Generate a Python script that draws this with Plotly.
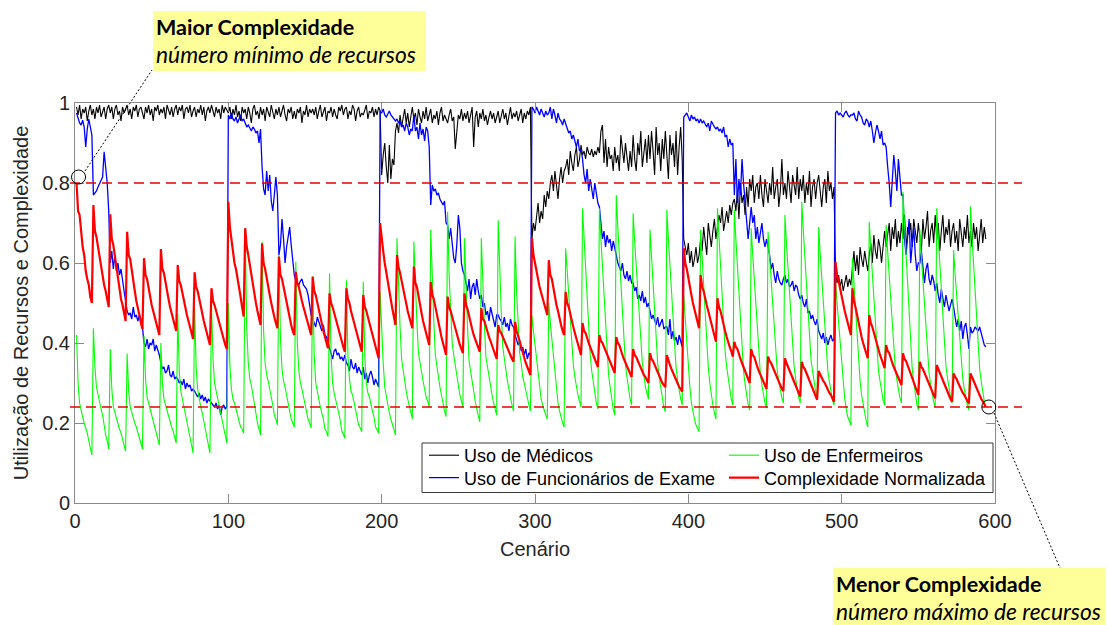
import plotly.graph_objects as go

# Cenários 1..594 (6 blocos de 99, subciclos de 11)
cenario = list(range(1, 595))

uso_medicos = [
    # bloco 1
    0.99, 0.97, 0.995, 0.96, 0.985, 0.975, 0.99, 0.955, 0.98, 0.995, 0.97,
    0.985, 0.96, 0.99, 0.975, 0.995, 0.965, 0.98, 0.99, 0.96, 0.985, 0.995,
    0.975, 0.99, 0.96, 0.985, 0.995, 0.97, 0.98, 0.955, 0.99, 0.975, 0.985,
    0.995, 0.97, 0.985, 0.96, 0.99, 0.98, 0.995, 0.965, 0.985, 0.99, 0.975,
    0.96, 0.99, 0.975, 0.995, 0.97, 0.985, 0.955, 0.99, 0.98, 0.995, 0.97,
    0.985, 0.975, 0.99, 0.96, 0.995, 0.98, 0.97, 0.99, 0.965, 0.985, 0.995,
    0.97, 0.99, 0.98, 0.995, 0.96, 0.985, 0.99, 0.975, 0.995, 0.965, 0.98,
    0.99, 0.965, 0.985, 0.975, 0.995, 0.97, 0.99, 0.955, 0.98, 0.99, 0.975,
    0.995, 0.98, 0.965, 0.99, 0.975, 0.985, 0.96, 0.995, 0.975, 0.99, 0.98,
    # bloco 2
    0.975, 0.99, 0.96, 0.985, 0.97, 0.995, 0.965, 0.98, 0.955, 0.99, 0.975,
    0.985, 0.96, 0.99, 0.975, 0.95, 0.985, 0.995, 0.97, 0.98, 0.96, 0.99,
    0.97, 0.985, 0.955, 0.99, 0.975, 0.965, 0.995, 0.98, 0.96, 0.985, 0.97,
    0.99, 0.965, 0.98, 0.995, 0.97, 0.955, 0.985, 0.975, 0.99, 0.96, 0.98,
    0.96, 0.985, 0.975, 0.99, 0.95, 0.98, 0.97, 0.995, 0.965, 0.985, 0.975,
    0.985, 0.97, 0.99, 0.96, 0.98, 0.995, 0.965, 0.975, 0.99, 0.955, 0.98,
    0.975, 0.99, 0.965, 0.985, 0.97, 0.96, 0.99, 0.98, 0.995, 0.97, 0.985,
    0.99, 0.96, 0.98, 0.97, 0.995, 0.985, 0.955, 0.98, 0.99, 0.965, 0.975,
    0.97, 0.985, 0.995, 0.96, 0.98, 0.975, 0.99, 0.965, 0.985, 0.97, 0.99,
    # bloco 3
    0.98, 0.82, 0.87, 0.90, 0.84, 0.80, 0.895, 0.81, 0.86, 0.845, 0.93,
    0.95, 0.925, 0.97, 0.94, 0.96, 0.985, 0.95, 0.975, 0.94, 0.965, 0.99,
    0.96, 0.975, 0.945, 0.985, 0.965, 0.95, 0.98, 0.96, 0.99, 0.955, 0.97,
    0.985, 0.95, 0.97, 0.96, 0.98, 0.945, 0.975, 0.99, 0.955, 0.97, 0.96,
    0.95, 0.97, 0.985, 0.955, 0.965, 0.885, 0.94, 0.97, 0.96, 0.985, 0.955,
    0.975, 0.96, 0.98, 0.95, 0.97, 0.99, 0.89, 0.965, 0.98, 0.94, 0.975,
    0.96, 0.985, 0.955, 0.97, 0.945, 0.965, 0.98, 0.96, 0.975, 0.95, 0.97,
    0.98, 0.95, 0.97, 0.985, 0.96, 0.975, 0.945, 0.97, 0.99, 0.96, 0.975,
    0.965, 0.98, 0.955, 0.97, 0.985, 0.95, 0.975, 0.96, 0.98, 0.97, 0.99,
    # bloco 4
    0.66, 0.70, 0.68, 0.72, 0.75, 0.70, 0.73, 0.71, 0.77, 0.74, 0.78,
    0.76, 0.80, 0.82, 0.78, 0.83, 0.79, 0.76, 0.81, 0.84, 0.80, 0.83,
    0.84, 0.86, 0.82, 0.88, 0.85, 0.83, 0.87, 0.89, 0.84, 0.86, 0.895,
    0.87, 0.88, 0.86, 0.89, 0.875, 0.87, 0.885, 0.865, 0.88, 0.87, 0.89,
    0.875, 0.93, 0.945, 0.85, 0.91, 0.84, 0.89, 0.86, 0.87, 0.83, 0.89,
    0.85, 0.87, 0.83, 0.92, 0.88, 0.85, 0.90, 0.86, 0.83, 0.88, 0.84,
    0.92, 0.86, 0.83, 0.90, 0.87, 0.93, 0.84, 0.88, 0.91, 0.85, 0.92,
    0.86, 0.93, 0.88, 0.82, 0.94, 0.87, 0.90, 0.83, 0.91, 0.86, 0.93,
    0.88, 0.81, 0.92, 0.87, 0.90, 0.84, 0.93, 0.82, 0.89, 0.94, 0.86,
    # bloco 5
    0.66, 0.64, 0.62, 0.65, 0.60, 0.63, 0.59, 0.61, 0.64, 0.60, 0.62,
    0.66, 0.63, 0.69, 0.65, 0.62, 0.70, 0.67, 0.64, 0.68, 0.71, 0.66,
    0.69, 0.72, 0.70, 0.74, 0.68, 0.71, 0.73, 0.70, 0.745, 0.72, 0.75,
    0.76, 0.73, 0.78, 0.71, 0.80, 0.75, 0.77, 0.72, 0.79, 0.74, 0.81,
    0.78, 0.82, 0.75, 0.79, 0.80, 0.76, 0.82, 0.77, 0.74, 0.81, 0.78,
    0.75, 0.80, 0.77, 0.84, 0.76, 0.79, 0.81, 0.74, 0.78, 0.86, 0.77,
    0.80, 0.76, 0.83, 0.78, 0.75, 0.82, 0.79, 0.77, 0.84, 0.76, 0.81,
    0.78, 0.82, 0.75, 0.80, 0.77, 0.83, 0.74, 0.79, 0.81, 0.76, 0.80,
    0.82, 0.77, 0.74, 0.79, 0.81, 0.75, 0.83, 0.78, 0.80, 0.76, 0.79,
    # bloco 6
    0.58, 0.55, 0.57, 0.54, 0.56, 0.53, 0.55, 0.57, 0.54, 0.56, 0.545,
    0.60, 0.63, 0.58, 0.62, 0.57, 0.64, 0.61, 0.59, 0.63, 0.60, 0.58,
    0.62, 0.65, 0.60, 0.67, 0.63, 0.61, 0.66, 0.64, 0.60, 0.65, 0.68,
    0.64, 0.67, 0.70, 0.63, 0.69, 0.66, 0.71, 0.64, 0.68, 0.65, 0.70,
    0.66, 0.72, 0.63, 0.69, 0.67, 0.70, 0.64, 0.71, 0.68, 0.65, 0.70,
    0.67, 0.63, 0.71, 0.66, 0.69, 0.73, 0.64, 0.68, 0.70, 0.65, 0.72,
    0.66, 0.70, 0.63, 0.68, 0.72, 0.65, 0.69, 0.67, 0.71, 0.64, 0.68,
    0.70, 0.65, 0.68, 0.63, 0.71, 0.67, 0.64, 0.69, 0.66, 0.72, 0.65,
    0.68, 0.64, 0.70, 0.66, 0.69, 0.63, 0.67, 0.71, 0.65, 0.69, 0.66,
]

uso_funcionarios = [
    # bloco 1
    0.975, 0.96, 0.95, 0.945, 0.957, 0.94, 0.89, 0.935, 0.96, 0.94, 0.92,
    0.77, 0.775, 0.78, 0.79, 0.80, 0.81, 0.815, 0.878, 0.845, 0.80, 0.73,
    0.60, 0.63, 0.585, 0.62, 0.58, 0.60, 0.57, 0.585, 0.55, 0.53, 0.505,
    0.48, 0.47, 0.475, 0.46, 0.49, 0.465, 0.47, 0.455, 0.47, 0.46, 0.44,
    0.40, 0.39, 0.41, 0.385, 0.40, 0.395, 0.41, 0.38, 0.395, 0.385, 0.37,
    0.35, 0.335, 0.34, 0.325, 0.33, 0.345, 0.32, 0.315, 0.33, 0.31, 0.315,
    0.31, 0.30, 0.305, 0.295, 0.31, 0.285, 0.30, 0.29, 0.295, 0.28, 0.285,
    0.28, 0.27, 0.265, 0.275, 0.26, 0.27, 0.255, 0.265, 0.25, 0.26, 0.255,
    0.25, 0.245, 0.24, 0.25, 0.235, 0.245, 0.22, 0.24, 0.245, 0.235, 0.24,
    # bloco 2
    0.97, 0.96, 0.975, 0.96, 0.955, 0.965, 0.95, 0.96, 0.97, 0.955, 0.96,
    0.95, 0.94, 0.945, 0.935, 0.93, 0.94, 0.935, 0.925, 0.93, 0.90, 0.935,
    0.84, 0.785, 0.77, 0.83, 0.78, 0.82, 0.755, 0.73, 0.77, 0.815, 0.77,
    0.62, 0.645, 0.71, 0.66, 0.60, 0.64, 0.67, 0.69, 0.645, 0.60, 0.57,
    0.555, 0.55, 0.545, 0.555, 0.56, 0.545, 0.54, 0.535, 0.52, 0.49, 0.47,
    0.46, 0.45, 0.44, 0.465, 0.455, 0.44, 0.43, 0.445, 0.42, 0.415, 0.40,
    0.39, 0.375, 0.36, 0.38, 0.385, 0.37, 0.375, 0.36, 0.365, 0.355, 0.37,
    0.35, 0.345, 0.33, 0.36, 0.34, 0.335, 0.35, 0.325, 0.34, 0.33, 0.32,
    0.34, 0.31, 0.325, 0.30, 0.32, 0.33, 0.315, 0.295, 0.31, 0.30, 0.29,
    # bloco 3
    0.98, 0.975, 0.985, 0.97, 0.965, 0.975, 0.98, 0.97, 0.965, 0.96, 0.955,
    0.96, 0.95, 0.955, 0.94, 0.945, 0.93, 0.95, 0.94, 0.92, 0.935, 0.93,
    0.97, 0.93, 0.94, 0.91, 0.95, 0.92, 0.935, 0.905, 0.94, 0.93, 0.89,
    0.745, 0.795, 0.78, 0.785, 0.77, 0.775, 0.76, 0.75, 0.745, 0.755, 0.70,
    0.695, 0.66, 0.687, 0.64, 0.612, 0.60, 0.645, 0.72, 0.687, 0.60, 0.58,
    0.57, 0.55, 0.53, 0.56, 0.51, 0.54, 0.55, 0.52, 0.56, 0.53, 0.51,
    0.52, 0.49, 0.50, 0.47, 0.48, 0.455, 0.49, 0.47, 0.46, 0.44, 0.47,
    0.47, 0.46, 0.455, 0.445, 0.465, 0.44, 0.45, 0.43, 0.46, 0.445, 0.44,
    0.42, 0.41, 0.395, 0.405, 0.38, 0.39, 0.37, 0.385, 0.36, 0.375, 0.37,
    # bloco 4
    0.99, 0.985, 0.975, 0.99, 0.98, 0.97, 0.985, 0.975, 0.965, 0.98, 0.97,
    0.975, 0.99, 0.96, 0.985, 0.97, 0.95, 0.975, 0.96, 0.955, 0.945, 0.96,
    0.95, 0.94, 0.925, 0.93, 0.91, 0.92, 0.90, 0.89, 0.91, 0.88, 0.885,
    0.86, 0.82, 0.80, 0.835, 0.78, 0.81, 0.79, 0.76, 0.80, 0.775, 0.75,
    0.74, 0.70, 0.66, 0.68, 0.64, 0.67, 0.65, 0.66, 0.63, 0.655, 0.64,
    0.62, 0.60, 0.59, 0.58, 0.60, 0.57, 0.56, 0.58, 0.555, 0.57, 0.55,
    0.55, 0.53, 0.54, 0.51, 0.52, 0.505, 0.53, 0.50, 0.515, 0.49, 0.50,
    0.48, 0.46, 0.47, 0.455, 0.445, 0.465, 0.44, 0.45, 0.46, 0.435, 0.44,
    0.44, 0.42, 0.46, 0.41, 0.43, 0.405, 0.415, 0.395, 0.42, 0.40, 0.39,
    # bloco 5
    0.965, 0.97, 0.975, 0.965, 0.955, 0.97, 0.96, 0.965, 0.955, 0.96, 0.95,
    0.96, 0.95, 0.955, 0.945, 0.94, 0.95, 0.93, 0.955, 0.945, 0.94, 0.935,
    0.94, 0.93, 0.935, 0.925, 0.94, 0.915, 0.92, 0.89, 0.91, 0.895, 0.90,
    0.77, 0.86, 0.75, 0.81, 0.77, 0.86, 0.80, 0.75, 0.70, 0.66, 0.70,
    0.74, 0.70, 0.72, 0.66, 0.69, 0.65, 0.68, 0.70, 0.66, 0.64, 0.66,
    0.64, 0.62, 0.585, 0.60, 0.57, 0.55, 0.58, 0.56, 0.55, 0.545, 0.56,
    0.57, 0.55, 0.56, 0.54, 0.545, 0.555, 0.53, 0.545, 0.54, 0.52, 0.51,
    0.52, 0.50, 0.49, 0.51, 0.475, 0.48, 0.46, 0.47, 0.455, 0.445, 0.46,
    0.43, 0.42, 0.41, 0.425, 0.40, 0.415, 0.395, 0.41, 0.42, 0.405, 0.41,
    # bloco 6
    0.975, 0.98, 0.97, 0.975, 0.97, 0.965, 0.975, 0.98, 0.97, 0.965, 0.97,
    0.97, 0.975, 0.96, 0.955, 0.98, 0.97, 0.965, 0.95, 0.945, 0.96, 0.955,
    0.94, 0.955, 0.93, 0.90, 0.925, 0.945, 0.93, 0.91, 0.93, 0.895, 0.90,
    0.89, 0.84, 0.80, 0.74, 0.82, 0.87, 0.83, 0.78, 0.86, 0.81, 0.77,
    0.77, 0.66, 0.62, 0.67, 0.71, 0.60, 0.65, 0.69, 0.62, 0.58, 0.60,
    0.60, 0.63, 0.58, 0.55, 0.585, 0.60, 0.56, 0.545, 0.57, 0.555, 0.53,
    0.55, 0.52, 0.50, 0.535, 0.51, 0.49, 0.52, 0.50, 0.48, 0.495, 0.51,
    0.49, 0.47, 0.44, 0.46, 0.43, 0.455, 0.41, 0.44, 0.45, 0.42, 0.385,
    0.44, 0.425, 0.43, 0.44, 0.435, 0.43, 0.44, 0.425, 0.41, 0.395, 0.39,
]

uso_enfermeiros = [
    # bloco 1
    0.42, 0.30, 0.25, 0.23, 0.215, 0.20, 0.19, 0.175, 0.155, 0.14, 0.12,
    0.437, 0.34, 0.29, 0.27, 0.25, 0.235, 0.22, 0.19, 0.17, 0.155, 0.135,
    0.385, 0.285, 0.24, 0.225, 0.21, 0.20, 0.185, 0.175, 0.16, 0.145, 0.13,
    0.374, 0.28, 0.24, 0.225, 0.21, 0.20, 0.19, 0.175, 0.165, 0.15, 0.135,
    0.418, 0.31, 0.265, 0.25, 0.23, 0.22, 0.205, 0.19, 0.175, 0.16, 0.145,
    0.40, 0.30, 0.26, 0.245, 0.23, 0.215, 0.205, 0.19, 0.18, 0.165, 0.15,
    0.474, 0.33, 0.28, 0.26, 0.24, 0.22, 0.20, 0.185, 0.165, 0.145, 0.125,
    0.487, 0.34, 0.285, 0.26, 0.24, 0.225, 0.205, 0.19, 0.17, 0.15, 0.125,
    0.50, 0.36, 0.30, 0.28, 0.26, 0.245, 0.23, 0.21, 0.19, 0.17, 0.15,
    # bloco 2
    0.50, 0.345, 0.285, 0.26, 0.25, 0.235, 0.22, 0.21, 0.19, 0.185, 0.174,
    0.687, 0.44, 0.35, 0.31, 0.295, 0.27, 0.25, 0.23, 0.20, 0.185, 0.17,
    0.653, 0.43, 0.35, 0.32, 0.305, 0.28, 0.265, 0.245, 0.22, 0.21, 0.195,
    0.62, 0.41, 0.335, 0.305, 0.29, 0.27, 0.255, 0.235, 0.21, 0.20, 0.19,
    0.603, 0.40, 0.33, 0.30, 0.285, 0.265, 0.25, 0.232, 0.21, 0.20, 0.187,
    0.566, 0.37, 0.30, 0.275, 0.26, 0.24, 0.225, 0.21, 0.185, 0.178, 0.166,
    0.574, 0.37, 0.30, 0.275, 0.26, 0.24, 0.225, 0.205, 0.18, 0.172, 0.162,
    0.557, 0.37, 0.31, 0.28, 0.27, 0.25, 0.235, 0.22, 0.195, 0.188, 0.178,
    0.553, 0.37, 0.30, 0.275, 0.265, 0.245, 0.23, 0.215, 0.19, 0.183, 0.174,
    # bloco 3
    0.528, 0.42, 0.35, 0.29, 0.265, 0.24, 0.225, 0.21, 0.195, 0.18, 0.17,
    0.662, 0.52, 0.44, 0.36, 0.33, 0.30, 0.28, 0.26, 0.24, 0.225, 0.21,
    0.653, 0.525, 0.45, 0.375, 0.35, 0.32, 0.305, 0.285, 0.265, 0.255, 0.24,
    0.683, 0.54, 0.455, 0.37, 0.34, 0.31, 0.29, 0.27, 0.245, 0.23, 0.216,
    0.728, 0.57, 0.49, 0.40, 0.37, 0.34, 0.315, 0.295, 0.27, 0.255, 0.24,
    0.662, 0.52, 0.44, 0.355, 0.33, 0.295, 0.275, 0.255, 0.235, 0.22, 0.203,
    0.662, 0.52, 0.445, 0.365, 0.34, 0.31, 0.29, 0.27, 0.25, 0.235, 0.22,
    0.707, 0.56, 0.475, 0.39, 0.36, 0.325, 0.305, 0.285, 0.26, 0.245, 0.23,
    0.666, 0.53, 0.45, 0.375, 0.35, 0.315, 0.30, 0.28, 0.26, 0.245, 0.23,
    # bloco 4
    0.47, 0.43, 0.395, 0.36, 0.315, 0.28, 0.26, 0.245, 0.23, 0.22, 0.21,
    0.50, 0.45, 0.41, 0.365, 0.315, 0.275, 0.25, 0.23, 0.21, 0.20, 0.19,
    0.637, 0.58, 0.52, 0.465, 0.40, 0.345, 0.315, 0.29, 0.27, 0.255, 0.24,
    0.737, 0.66, 0.59, 0.52, 0.44, 0.37, 0.33, 0.30, 0.27, 0.25, 0.235,
    0.737, 0.66, 0.59, 0.515, 0.43, 0.36, 0.32, 0.29, 0.255, 0.235, 0.22,
    0.77, 0.69, 0.62, 0.545, 0.46, 0.385, 0.345, 0.315, 0.28, 0.26, 0.245,
    0.724, 0.655, 0.59, 0.525, 0.45, 0.385, 0.35, 0.32, 0.29, 0.275, 0.26,
    0.683, 0.615, 0.55, 0.487, 0.415, 0.35, 0.315, 0.287, 0.26, 0.24, 0.228,
    0.733, 0.66, 0.59, 0.52, 0.445, 0.375, 0.338, 0.308, 0.28, 0.26, 0.245,
    # bloco 5
    0.52, 0.46, 0.40, 0.345, 0.29, 0.25, 0.225, 0.21, 0.195, 0.185, 0.178,
    0.683, 0.61, 0.545, 0.48, 0.40, 0.34, 0.30, 0.27, 0.245, 0.225, 0.21,
    0.737, 0.66, 0.595, 0.525, 0.445, 0.38, 0.34, 0.31, 0.28, 0.26, 0.245,
    0.733, 0.66, 0.59, 0.52, 0.44, 0.37, 0.33, 0.297, 0.267, 0.247, 0.232,
    0.687, 0.62, 0.555, 0.49, 0.42, 0.36, 0.322, 0.295, 0.27, 0.25, 0.237,
    0.678, 0.615, 0.555, 0.495, 0.425, 0.365, 0.33, 0.305, 0.28, 0.263, 0.25,
    0.72, 0.65, 0.585, 0.518, 0.443, 0.377, 0.34, 0.31, 0.283, 0.264, 0.25,
    0.753, 0.68, 0.612, 0.543, 0.466, 0.397, 0.358, 0.33, 0.30, 0.28, 0.266,
    0.69, 0.623, 0.56, 0.499, 0.427, 0.365, 0.33, 0.303, 0.276, 0.258, 0.245,
    # bloco 6
    0.553, 0.50, 0.45, 0.40, 0.34, 0.29, 0.26, 0.235, 0.215, 0.205, 0.195,
    0.612, 0.55, 0.49, 0.43, 0.36, 0.305, 0.27, 0.245, 0.22, 0.205, 0.19,
    0.703, 0.635, 0.57, 0.505, 0.433, 0.37, 0.332, 0.305, 0.277, 0.258, 0.245,
    0.695, 0.628, 0.566, 0.504, 0.432, 0.37, 0.335, 0.308, 0.281, 0.263, 0.25,
    0.778, 0.695, 0.62, 0.543, 0.456, 0.38, 0.336, 0.303, 0.27, 0.248, 0.232,
    0.683, 0.616, 0.555, 0.493, 0.422, 0.36, 0.325, 0.298, 0.27, 0.253, 0.24,
    0.737, 0.664, 0.596, 0.528, 0.45, 0.382, 0.343, 0.313, 0.284, 0.265, 0.25,
    0.632, 0.572, 0.516, 0.46, 0.396, 0.34, 0.31, 0.284, 0.26, 0.244, 0.232,
    0.741, 0.666, 0.596, 0.526, 0.445, 0.375, 0.335, 0.305, 0.275, 0.255, 0.24,
]

complexidade = [
    # bloco 1
    0.80, 0.73, 0.72, 0.68, 0.64, 0.62, 0.58, 0.56, 0.545, 0.515, 0.50,
    0.745, 0.68, 0.665, 0.64, 0.61, 0.59, 0.565, 0.545, 0.53, 0.505, 0.49,
    0.722, 0.66, 0.645, 0.615, 0.585, 0.56, 0.53, 0.51, 0.495, 0.47, 0.455,
    0.678, 0.62, 0.61, 0.58, 0.555, 0.53, 0.505, 0.49, 0.47, 0.45, 0.435,
    0.612, 0.57, 0.56, 0.535, 0.515, 0.495, 0.48, 0.465, 0.45, 0.435, 0.42,
    0.635, 0.585, 0.575, 0.55, 0.53, 0.51, 0.49, 0.475, 0.46, 0.44, 0.43,
    0.595, 0.555, 0.545, 0.525, 0.505, 0.485, 0.47, 0.455, 0.44, 0.425, 0.41,
    0.577, 0.54, 0.53, 0.51, 0.49, 0.47, 0.455, 0.44, 0.425, 0.41, 0.395,
    0.537, 0.505, 0.495, 0.48, 0.465, 0.45, 0.435, 0.42, 0.405, 0.395, 0.385,
    # bloco 2
    0.753, 0.69, 0.655, 0.63, 0.60, 0.585, 0.565, 0.54, 0.515, 0.49, 0.466,
    0.687, 0.64, 0.62, 0.595, 0.565, 0.54, 0.52, 0.50, 0.48, 0.46, 0.445,
    0.649, 0.60, 0.585, 0.56, 0.54, 0.52, 0.50, 0.48, 0.465, 0.45, 0.437,
    0.616, 0.57, 0.56, 0.54, 0.52, 0.50, 0.48, 0.46, 0.445, 0.43, 0.42,
    0.578, 0.55, 0.54, 0.52, 0.505, 0.49, 0.475, 0.46, 0.445, 0.43, 0.42,
    0.566, 0.53, 0.52, 0.50, 0.48, 0.46, 0.445, 0.43, 0.415, 0.40, 0.387,
    0.524, 0.50, 0.49, 0.475, 0.46, 0.445, 0.43, 0.415, 0.40, 0.39, 0.378,
    0.537, 0.51, 0.50, 0.48, 0.465, 0.45, 0.435, 0.42, 0.405, 0.39, 0.378,
    0.52, 0.49, 0.48, 0.465, 0.45, 0.435, 0.42, 0.405, 0.39, 0.375, 0.362,
    # bloco 3
    0.70, 0.655, 0.63, 0.60, 0.575, 0.55, 0.53, 0.505, 0.485, 0.465, 0.445,
    0.62, 0.59, 0.575, 0.555, 0.535, 0.515, 0.495, 0.48, 0.465, 0.45, 0.437,
    0.591, 0.55, 0.54, 0.515, 0.495, 0.475, 0.455, 0.44, 0.425, 0.41, 0.395,
    0.553, 0.52, 0.51, 0.49, 0.47, 0.45, 0.43, 0.415, 0.40, 0.385, 0.37,
    0.516, 0.49, 0.48, 0.465, 0.45, 0.435, 0.42, 0.41, 0.395, 0.385, 0.375,
    0.524, 0.495, 0.485, 0.465, 0.45, 0.435, 0.42, 0.41, 0.40, 0.39, 0.378,
    0.487, 0.46, 0.455, 0.44, 0.43, 0.415, 0.405, 0.395, 0.38, 0.37, 0.36,
    0.445, 0.43, 0.425, 0.415, 0.41, 0.40, 0.39, 0.38, 0.37, 0.36, 0.353,
    0.453, 0.43, 0.42, 0.405, 0.39, 0.375, 0.365, 0.35, 0.34, 0.33, 0.32,
    # bloco 4
    0.662, 0.62, 0.60, 0.575, 0.56, 0.54, 0.525, 0.51, 0.495, 0.48, 0.47,
    0.607, 0.57, 0.56, 0.535, 0.515, 0.495, 0.48, 0.46, 0.445, 0.43, 0.42,
    0.528, 0.50, 0.49, 0.47, 0.455, 0.44, 0.425, 0.41, 0.395, 0.38, 0.37,
    0.45, 0.43, 0.425, 0.41, 0.40, 0.39, 0.38, 0.37, 0.36, 0.35, 0.34,
    0.42, 0.405, 0.40, 0.39, 0.38, 0.37, 0.36, 0.35, 0.345, 0.335, 0.325,
    0.415, 0.40, 0.395, 0.38, 0.37, 0.36, 0.35, 0.34, 0.33, 0.32, 0.315,
    0.385, 0.37, 0.365, 0.355, 0.345, 0.34, 0.33, 0.32, 0.315, 0.305, 0.30,
    0.375, 0.36, 0.355, 0.345, 0.335, 0.325, 0.32, 0.31, 0.30, 0.295, 0.29,
    0.37, 0.355, 0.345, 0.335, 0.325, 0.315, 0.305, 0.30, 0.29, 0.285, 0.278,
    # bloco 5
    0.637, 0.60, 0.585, 0.56, 0.54, 0.52, 0.50, 0.485, 0.47, 0.45, 0.437,
    0.57, 0.54, 0.53, 0.51, 0.495, 0.48, 0.465, 0.45, 0.435, 0.42, 0.403,
    0.512, 0.49, 0.48, 0.46, 0.445, 0.43, 0.415, 0.40, 0.39, 0.38, 0.366,
    0.403, 0.39, 0.385, 0.37, 0.36, 0.35, 0.34, 0.33, 0.32, 0.31, 0.30,
    0.385, 0.37, 0.365, 0.35, 0.34, 0.33, 0.32, 0.31, 0.30, 0.29, 0.285,
    0.366, 0.355, 0.35, 0.34, 0.33, 0.32, 0.31, 0.305, 0.295, 0.285, 0.28,
    0.362, 0.35, 0.34, 0.33, 0.32, 0.31, 0.30, 0.29, 0.285, 0.275, 0.266,
    0.353, 0.34, 0.335, 0.325, 0.315, 0.305, 0.295, 0.285, 0.275, 0.265, 0.258,
    0.33, 0.32, 0.315, 0.305, 0.30, 0.29, 0.285, 0.275, 0.27, 0.26, 0.253,
    # bloco 6
    0.603, 0.57, 0.555, 0.535, 0.515, 0.50, 0.48, 0.465, 0.45, 0.435, 0.42,
    0.537, 0.505, 0.49, 0.47, 0.45, 0.43, 0.415, 0.40, 0.385, 0.375, 0.362,
    0.47, 0.45, 0.44, 0.425, 0.41, 0.395, 0.385, 0.37, 0.36, 0.345, 0.337,
    0.395, 0.38, 0.375, 0.36, 0.35, 0.34, 0.33, 0.32, 0.31, 0.30, 0.295,
    0.374, 0.36, 0.355, 0.345, 0.335, 0.32, 0.31, 0.30, 0.29, 0.28, 0.27,
    0.353, 0.34, 0.335, 0.325, 0.315, 0.305, 0.295, 0.285, 0.275, 0.27, 0.262,
    0.345, 0.335, 0.325, 0.315, 0.305, 0.295, 0.285, 0.275, 0.265, 0.26, 0.253,
    0.324, 0.315, 0.31, 0.30, 0.29, 0.285, 0.275, 0.27, 0.26, 0.255, 0.249,
    0.324, 0.315, 0.305, 0.295, 0.285, 0.275, 0.27, 0.26, 0.255, 0.245, 0.24,
]

x_ticks = [0, 100, 200, 300, 400, 500, 600]
y_ticks = [0, 0.2, 0.4, 0.6, 0.8, 1]
x_range = [0, 600]
y_range = [0, 1]

W, H = 1108, 625
ml, mr, mt, mb = 75, 113, 103, 122
pw, ph = W - ml - mr, H - mt - mb


def px_to_paper(px, py):
    return (px - ml) / pw, (H - mb - py) / ph


def data_to_paper(x, y):
    return ((x - x_range[0]) / (x_range[1] - x_range[0]),
            (y - y_range[0]) / (y_range[1] - y_range[0]))


# (nome, valores, cor, largura, legenda, posição da entrada na caixa)
series = [
    ("Uso de Médicos", uso_medicos, "#000000", 1.1, "legend", (424, 437)),
    ("Uso de Funcionários de Exame", uso_funcionarios, "#0000FF", 1.3, "legend2", (424, 459.5)),
    ("Uso de Enfermeiros", uso_enfermeiros, "#00FF00", 1.1, "legend3", (724, 437)),
    ("Complexidade Normalizada", complexidade, "#FF0000", 2.2, "legend4", (724, 459.5)),
]

legenda_font = dict(family="'Liberation Sans', Arial, sans-serif", size=18, color="#000000")

fig = go.Figure()
legendas = {}
for nome, valores, cor, largura, leg, (lpx, lpy) in series:
    fig.add_trace(go.Scatter(
        x=cenario, y=valores, mode="lines", name=nome,
        line=dict(color=cor, width=largura), legend=leg,
    ))
    lx, ly = px_to_paper(lpx, lpy)
    legendas[leg] = dict(x=lx, y=ly, xanchor="left", yanchor="top",
                         bgcolor="rgba(255,255,255,0)", borderwidth=0,
                         font=legenda_font, itemwidth=30)

# moldura da legenda
b0 = px_to_paper(422, 443)
b1 = px_to_paper(993, 492.5)
fig.add_shape(type="rect", xref="paper", yref="paper", x0=b0[0], y0=b0[1], x1=b1[0], y1=b1[1],
              line=dict(color="#3a3a3a", width=1), fillcolor="#FFFFFF", layer="above")

# linhas de referência: máxima e mínima complexidade
c_max, c_min = max(complexidade), min(complexidade)
xa, _ = px_to_paper(70, 0)
xb, _ = px_to_paper(1022, 0)
for nivel in (c_max, c_min):
    yp = data_to_paper(0, nivel)[1]
    fig.add_shape(type="line", xref="paper", yref="paper", x0=xa, x1=xb, y0=yp, y1=yp,
                  line=dict(color="#E60000", width=1.5, dash="10px,6px"), layer="above")

# marcadores circulares no primeiro e no último cenário
p0 = data_to_paper(cenario[0], complexidade[0])
p1 = data_to_paper(cenario[-1], complexidade[-1])
fig.add_shape(type="circle", xref="paper", yref="paper", xsizemode="pixel", ysizemode="pixel",
              xanchor=p0[0], yanchor=p0[1], x0=-5, x1=9, y0=-1, y1=13,
              line=dict(color="#000000", width=1), layer="above")
fig.add_shape(type="circle", xref="paper", yref="paper", xsizemode="pixel", ysizemode="pixel",
              xanchor=p1[0], yanchor=p1[1], x0=-4, x1=10, y0=-7, y1=7,
              line=dict(color="#000000", width=1), layer="above")

# linhas pontilhadas até as caixas de texto
for (ax_, ay_), (bx_, by_) in [((85, 171), (152, 70)), ((994, 413), (1060, 568))]:
    a = px_to_paper(ax_, ay_)
    b = px_to_paper(bx_, by_)
    fig.add_shape(type="line", xref="paper", yref="paper", x0=a[0], y0=a[1], x1=b[0], y1=b[1],
                  line=dict(color="#000000", width=1, dash="2px,2px"), layer="above")

caixa_font = dict(family="Lato, 'Open Sans', sans-serif", size=21, color="#000000")
for titulo, subtitulo, (bx_, by_) in [
    ("Maior Complexidade", "número mínimo de recursos", (153, 10.5)),
    ("Menor Complexidade", "número máximo de recursos", (833, 568)),
]:
    p = px_to_paper(bx_, by_)
    texto = ("<b><span style='font-size:21.5px'>" + titulo + "</span></b><br>"
             "<i><span style='font-size:22.8px'>" + subtitulo + "</span></i>")
    fig.add_annotation(xref="paper", yref="paper", x=p[0], y=p[1], xanchor="left", yanchor="top",
                       text=texto, showarrow=False, align="left", valign="middle",
                       width=267, height=54, borderpad=3, borderwidth=0,
                       bgcolor="#FFFF99", font=caixa_font)

eixo_font = dict(family="'Liberation Sans', Arial, sans-serif", size=20, color="#262626")
eixo_comum = dict(showline=True, linecolor="#8a8a8a", linewidth=1, mirror="ticks",
                  ticks="inside", ticklen=9, tickcolor="#8a8a8a", showgrid=False,
                  zeroline=False, tickfont=eixo_font)

fig.update_xaxes(range=x_range, tickvals=x_ticks,
                 title=dict(text="Cenário", font=eixo_font, standoff=10), **eixo_comum)
fig.update_yaxes(range=y_range, tickvals=y_ticks,
                 title=dict(text="Utilização de Recursos e Complexidade", font=eixo_font, standoff=8),
                 **eixo_comum)

fig.update_layout(
    width=W, height=H,
    margin=dict(l=ml, r=mr, t=mt, b=mb, autoexpand=False),
    paper_bgcolor="#FFFFFF", plot_bgcolor="#FFFFFF",
    font=eixo_font,
    showlegend=True,
    **legendas,
)

fig.write_html("out.html")
